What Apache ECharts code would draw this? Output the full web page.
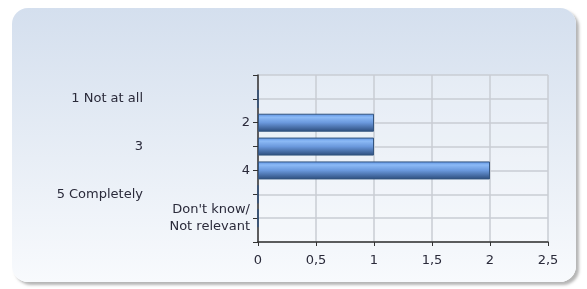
<!DOCTYPE html>
<html>
<head>
<meta charset="utf-8">
<script src="https://cdn.jsdelivr.net/npm/echarts@6/dist/echarts.min.js"></script>
<style>
  html, body { margin: 0; padding: 0; background: #fff; }
  #panel {
    position: absolute; left: 12px; top: 8px; width: 564px; height: 274px;
    border-radius: 16px;
    background: linear-gradient(to bottom, #d4dfee 0%, #e8eef6 55%, #f8fafd 100%);
    box-shadow: 3px 3px 3px rgba(120,120,120,0.55);
  }
  #chart { position: absolute; left: 0; top: 0; width: 587px; height: 289px; }
</style>
</head>
<body>
<div id="panel"></div>
<div id="chart"></div>
<script>
// カテゴリ（上下に空白の枠を入れて、目盛りの位置を元の図に合わせる）
const categories = ['', '1 Not at all', '2', '3', '4', '5 Completely', "Don't know/\nNot relevant", ''];
const counts = [null, 0, 1, 1, 2, 0, 0, null];
const xTicks = [0, 0.5, 1, 1.5, 2, 2.5];

const chart = echarts.init(document.getElementById('chart'));

const barColor = new echarts.graphic.LinearGradient(0, 0, 0, 1, [
  { offset: 0, color: '#5b8fe0' },
  { offset: 0.2, color: '#8cbaf6' },
  { offset: 0.5, color: '#6a98dc' },
  { offset: 1, color: '#2b4b7a' }
]);

const labelFont = { color: '#2a2a3a', fontFamily: 'DejaVu Sans', fontSize: 13 };

const option = {
  animation: false,
  grid: { left: 258, right: 39, top: 75, bottom: 47, containLabel: false,
          show: true, backgroundColor: 'rgba(255,255,255,0.25)', borderWidth: 0 },
  xAxis: {
    type: 'value',
    min: xTicks[0],
    max: xTicks[xTicks.length - 1],
    interval: 0.5,
    axisLine: { show: true, lineStyle: { color: '#333', width: 1.5 } },
    axisTick: { show: true, length: 4, lineStyle: { color: '#333' } },
    axisLabel: Object.assign({}, labelFont, {
      margin: 12,
      formatter: v => String(v).replace('.', ',')
    }),
    splitLine: { show: true, lineStyle: { color: '#c9cdd3', width: 1.5 } }
  },
  yAxis: {
    type: 'category',
    inverse: true,
    boundaryGap: false,
    data: categories,
    axisLine: { show: true, lineStyle: { color: '#333', width: 1.5 } },
    axisTick: { show: true, length: 5, alignWithLabel: true, lineStyle: { color: '#333' } },
    axisLabel: Object.assign({}, labelFont, {
      interval: 0,
      margin: 8,
      lineHeight: 17,
      formatter: (v, i) => {
        if (!v) return '';
        // 1, 3, 5 のラベルは左にずらす
        return (i % 2 === 1) ? '{far|' + v + '}' : v;
      },
      rich: {
        far: Object.assign({}, labelFont, { padding: [0, 107, 0, 0] })
      }
    }),
    splitLine: { show: true, lineStyle: { color: '#c9cdd3', width: 1.5 } }
  },
  series: [{
    type: 'bar',
    data: counts,
    barWidth: 18,
    itemStyle: { color: barColor, borderColor: '#34557f', borderWidth: 1 }
  }]
};

chart.setOption(option);
window.addEventListener('resize', chart.resize);
</script>
</body>
</html>
